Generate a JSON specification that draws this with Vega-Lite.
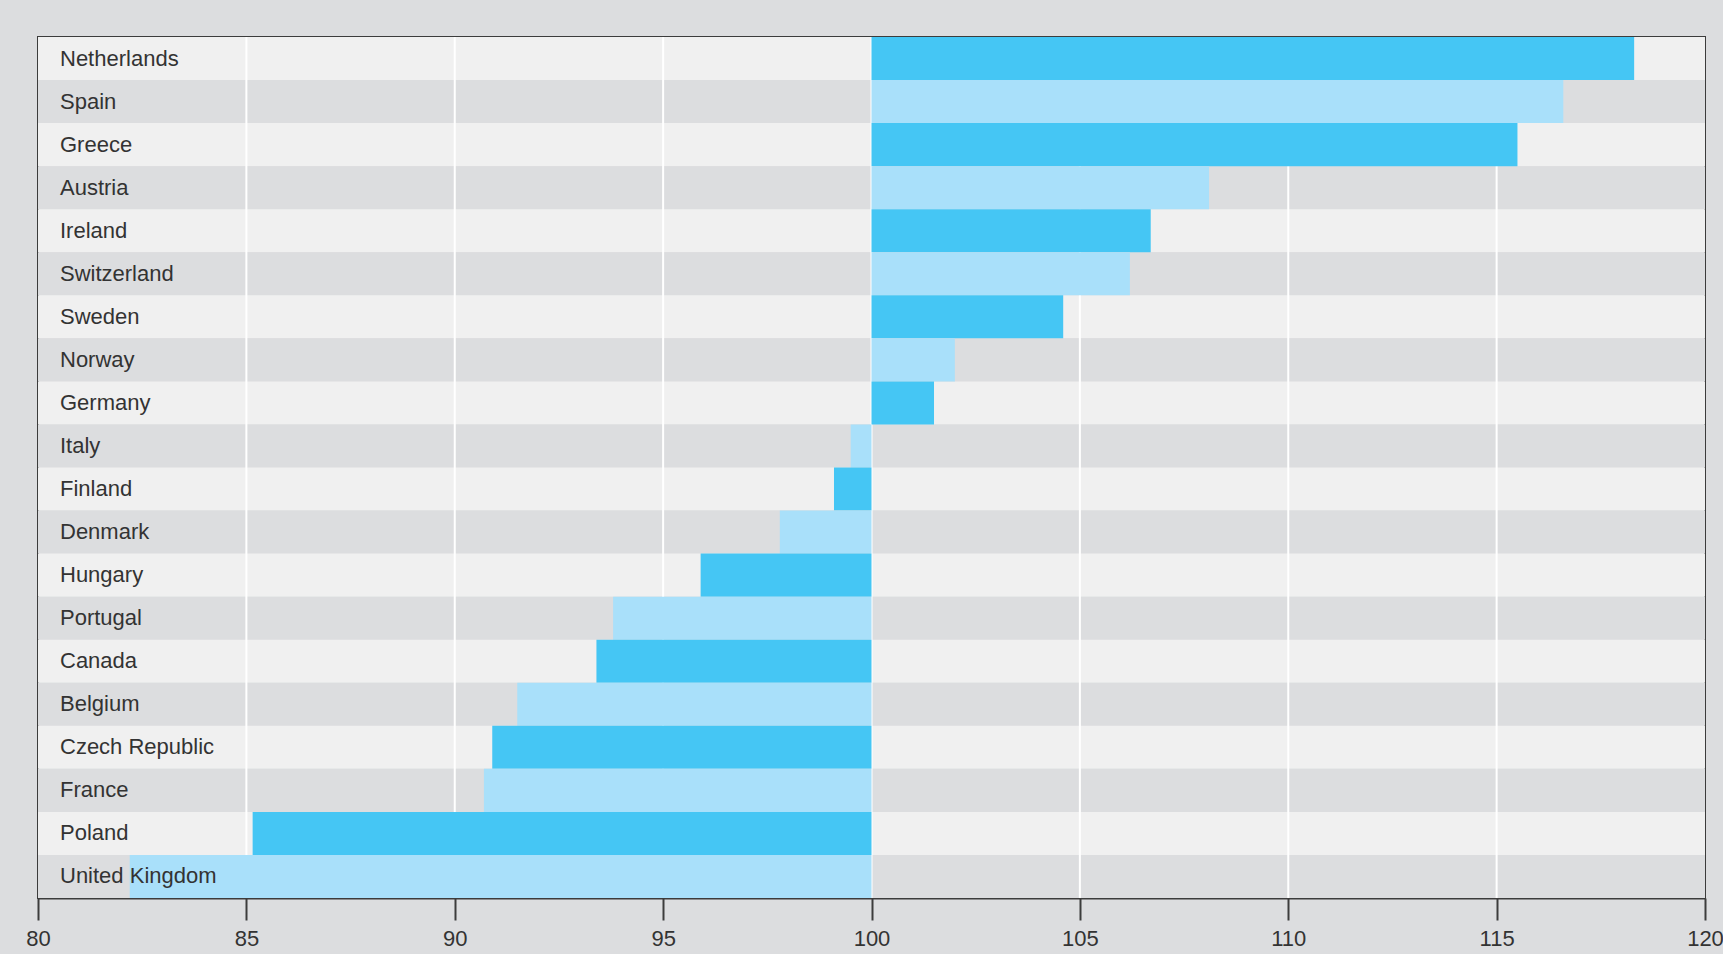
{
  "$schema": "https://vega.github.io/schema/vega-lite/v6.json",
  "width": 1667,
  "height": 861,
  "autosize": {"type": "none"},
  "padding": {"left": 38, "top": 37, "right": 18, "bottom": 56},
  "background": "#dcdddf",
  "config": {"view": {"stroke": "#3c3c3c", "strokeWidth": 2}, "font": "Liberation Sans"},
  "datasets": {
    "countries": [
      {"country": "Netherlands", "value": 118.3, "band": "odd"},
      {"country": "Spain", "value": 116.6, "band": "even"},
      {"country": "Greece", "value": 115.5, "band": "odd"},
      {"country": "Austria", "value": 108.1, "band": "even"},
      {"country": "Ireland", "value": 106.7, "band": "odd"},
      {"country": "Switzerland", "value": 106.2, "band": "even"},
      {"country": "Sweden", "value": 104.6, "band": "odd"},
      {"country": "Norway", "value": 102.0, "band": "even"},
      {"country": "Germany", "value": 101.5, "band": "odd"},
      {"country": "Italy", "value": 99.5, "band": "even"},
      {"country": "Finland", "value": 99.1, "band": "odd"},
      {"country": "Denmark", "value": 97.8, "band": "even"},
      {"country": "Hungary", "value": 95.9, "band": "odd"},
      {"country": "Portugal", "value": 93.8, "band": "even"},
      {"country": "Canada", "value": 93.4, "band": "odd"},
      {"country": "Belgium", "value": 91.5, "band": "even"},
      {"country": "Czech Republic", "value": 90.9, "band": "odd"},
      {"country": "France", "value": 90.7, "band": "even"},
      {"country": "Poland", "value": 85.15, "band": "odd"},
      {"country": "United Kingdom", "value": 82.2, "band": "even"}
    ],
    "grid": [{"v": 85}, {"v": 90}, {"v": 95}, {"v": 100}, {"v": 105}, {"v": 110}, {"v": 115}]
  },
  "layer": [
    {
      "data": {"name": "countries"},
      "mark": {"type": "bar"},
      "encoding": {
        "y": {"field": "country", "type": "nominal", "sort": null, "axis": null, "scale": {"paddingInner": 0, "paddingOuter": 0}},
        "x": {"datum": 80, "type": "quantitative", "scale": {"domain": [80, 120], "nice": false, "zero": false},
              "axis": {"values": [80, 85, 90, 95, 100, 105, 110, 115, 120], "grid": false, "title": null, "domainColor": "#3c3c3c", "domainWidth": 2, "tickColor": "#3c3c3c", "tickWidth": 2, "tickSize": 22, "labelFontSize": 22, "labelColor": "#333333", "labelPadding": 8, "labelFlush": false}},
        "x2": {"datum": 120},
        "color": {"field": "band", "type": "nominal", "scale": {"domain": ["odd", "even"], "range": ["#f0f0f0", "#dcdddf"]}, "legend": null}
      }
    },
    {
      "data": {"name": "grid"},
      "mark": {"type": "rule", "color": "#ffffff", "strokeWidth": 2},
      "encoding": {
        "x": {"field": "v", "type": "quantitative", "scale": {"domain": [80, 120], "nice": false, "zero": false},
              "axis": {"values": [80, 85, 90, 95, 100, 105, 110, 115, 120], "grid": false, "title": null, "domainColor": "#3c3c3c", "domainWidth": 2, "tickColor": "#3c3c3c", "tickWidth": 2, "tickSize": 22, "labelFontSize": 22, "labelColor": "#333333", "labelPadding": 8, "labelFlush": false}}
      }
    },
    {
      "data": {"name": "countries"},
      "mark": {"type": "bar"},
      "encoding": {
        "y": {"field": "country", "type": "nominal", "sort": null, "axis": null, "scale": {"paddingInner": 0, "paddingOuter": 0}},
        "x": {"field": "value", "type": "quantitative", "scale": {"domain": [80, 120], "nice": false, "zero": false},
              "axis": {"values": [80, 85, 90, 95, 100, 105, 110, 115, 120], "grid": false, "title": null, "domainColor": "#3c3c3c", "domainWidth": 2, "tickColor": "#3c3c3c", "tickWidth": 2, "tickSize": 22, "labelFontSize": 22, "labelColor": "#333333", "labelPadding": 8, "labelFlush": false}},
        "x2": {"datum": 100},
        "color": {"field": "band", "type": "nominal", "scale": {"domain": ["odd", "even"], "range": ["#45c6f4", "#a9e0fa"]}, "legend": null}
      }
    },
    {
      "data": {"name": "countries"},
      "mark": {"type": "text", "align": "left", "baseline": "middle", "dx": 22, "fontSize": 22, "color": "#333333"},
      "encoding": {
        "y": {"field": "country", "type": "nominal", "sort": null, "axis": null, "scale": {"paddingInner": 0, "paddingOuter": 0}},
        "x": {"datum": 80, "type": "quantitative", "scale": {"domain": [80, 120], "nice": false, "zero": false}},
        "text": {"field": "country"}
      }
    }
  ],
  "resolve": {"scale": {"color": "independent"}}
}
